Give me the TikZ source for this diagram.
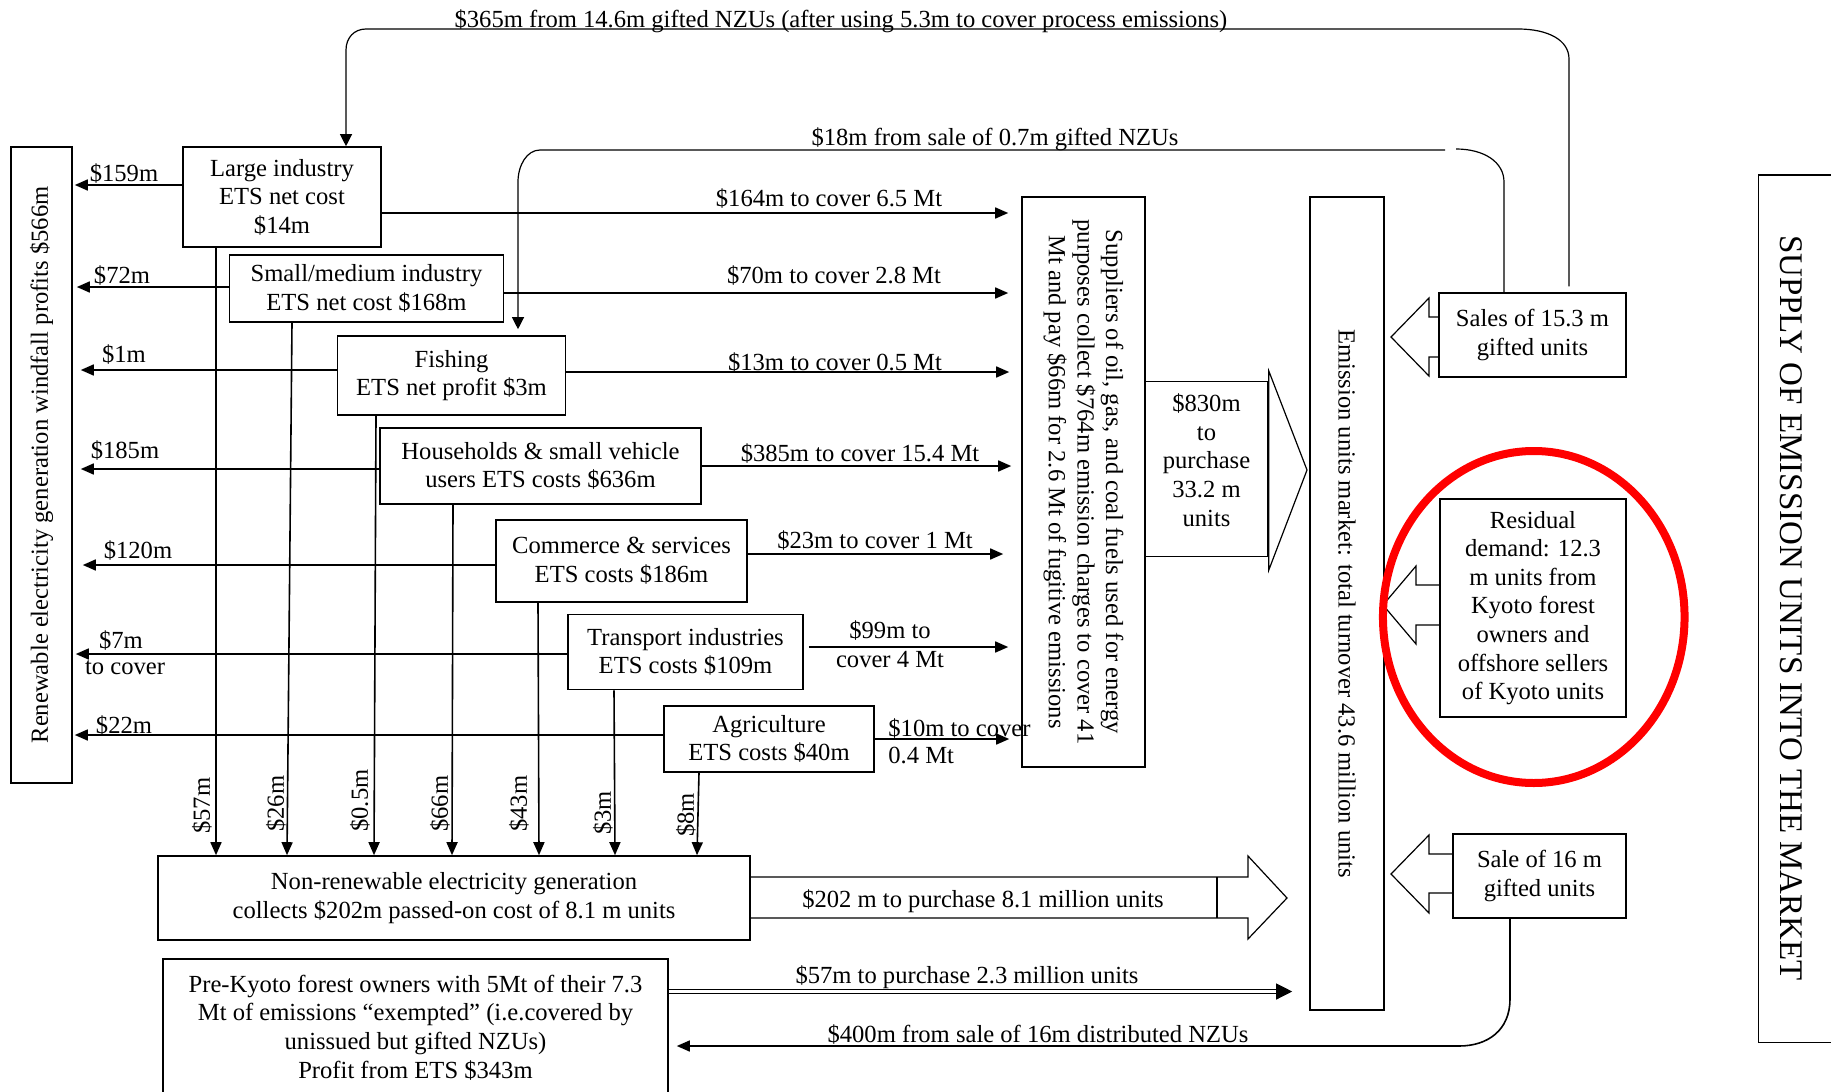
\documentclass[tikz,border=0pt,12pt]{standalone}
\usepackage{fontspec}
\setmainfont{Liberation Serif}
\usetikzlibrary{arrows.meta}

\tikzset{
  box/.style={draw, line width=0.8pt, align=center, inner sep=0pt},
  flow/.style={line width=0.8pt, -{Triangle[length=6.5pt,width=5.5pt]}},
  back/.style={line width=0.6pt, -{Triangle[length=6pt,width=6pt]}},
  lbl/.style={inner sep=0pt, anchor=base},
  vlbl/.style={inner sep=0pt, rotate=90, anchor=west},
  blockarrow/.style={line width=0.6pt, line join=miter},
}

\begin{document}
\begin{tikzpicture}[x=0.5pt, y=-0.5pt, font=\fontsize{12.3}{14.3}\selectfont]
    \useasboundingbox (0,0) rectangle (1831,1092);
    % Boxes on the demand side
    \node[box, rotate=90, minimum width=318pt, minimum height=30.5pt] (renew) at (41.5,465) {Renewable electricity generation windfall profits \$566m};
    \node[box, minimum width=98.75pt, minimum height=50pt] (large) at (282,197) {Large industry\\ETS net cost\\\$14m};
    \node[box, minimum width=137pt, minimum height=33.5pt] (small) at (366.5,288.5) {Small/medium industry\\ETS net cost \$168m};
    \node[box, minimum width=114pt, minimum height=39.5pt] (fish) at (451.5,375.5) {Fishing\\ETS net profit \$3m};
    \node[box, minimum width=160.5pt, minimum height=38pt] (house) at (540.5,466) {Households \& small vehicle\\users ETS costs \$636m};
    \node[box, minimum width=125.5pt, minimum height=41pt] (comm) at (621.5,561) {Commerce \& services\\ETS costs \$186m};
    \node[box, minimum width=117.5pt, minimum height=37.5pt] (trans) at (685.5,652) {Transport industries\\ETS costs \$109m};
    \node[box, minimum width=105pt, minimum height=33pt] (agri) at (769,739) {Agriculture\\ETS costs \$40m};
    \node[box, minimum width=295.75pt, minimum height=42pt] (nonren) at (454,898) {Non-renewable electricity generation\\collects \$202m passed-on cost of 8.1 m units};
    \node[box, minimum width=252.5pt, minimum height=68.5pt] (prek) at (415.5,1027.5) {Pre-Kyoto forest owners with 5Mt of their 7.3\\Mt of emissions “exempted” (i.e.covered by\\unissued but gifted NZUs)\\Profit from ETS \$343m};
    \node[box, rotate=-90, minimum width=285pt, minimum height=61.5pt] (suppl) at (1083.5,482) {Suppliers of oil, gas, and coal fuels used for energy\\purposes collect \$764m emission charges to cover 41\\Mt and pay \$66m for 2.6 Mt of fugitive emissions};
    \node[box, text depth=9pt, minimum width=61.5pt, minimum height=87.5pt] (buy) at (1206.5,469) {\$830m\\to\\purchase\\33.2 m\\units};
    \node[box, rotate=-90, minimum width=406.5pt, minimum height=37pt] (market) at (1347,603.5) {Emission units market: total turnover 43.6 million units};
    % Supply side
    \node[box, minimum width=93.5pt, minimum height=41.75pt] (sales) at (1532.5,335) {Sales of 15.3 m\\gifted units};
    \node[box, minimum width=92.75pt, minimum height=109pt] (resid) at (1533,608) {Residual\\demand: 12.3\\m units from\\Kyoto forest\\owners and\\offshore sellers\\of Kyoto units};
    \node[box, minimum width=86.5pt, minimum height=41.75pt] (sale16) at (1539.5,876) {Sale of 16 m\\gifted units};
    \draw[box] (1758.5,175) rectangle (1850,1042.5);
    \node[inner sep=0pt, rotate=-90, font=\fontsize{16.5}{19}\selectfont] (supply) at (1791,608) {SUPPLY OF EMISSION UNITS INTO THE MARKET};

    % Payments to the fuel suppliers
    \draw[flow, shorten >=6.5pt] (large.east |- 0,213) -- (suppl.south |- 0,213);
    \draw[flow, shorten >=6.5pt] (small.east |- 0,293) -- (suppl.south |- 0,293);
    \draw[flow, shorten >=6pt] (fish.east |- 0,372) -- (suppl.south |- 0,372);
    \draw[flow, shorten >=5pt] (house.east |- 0,466) -- (suppl.south |- 0,466);
    \draw[flow, shorten >=9pt] (comm.east |- 0,554) -- (suppl.south |- 0,554);
    \draw[flow, shorten <=2.5pt, shorten >=6.5pt] (trans.east |- 0,647) -- (suppl.south |- 0,647);
    \draw[flow, shorten >=6pt] (agri.east |- 0,739) -- (suppl.south |- 0,739);
    \node[lbl] (l164) at (829,206) {\$164m to cover 6.5 Mt};
    \node[lbl] (l70) at (834,283) {\$70m to cover 2.8 Mt};
    \node[lbl] (l13) at (835,370) {\$13m to cover 0.5 Mt};
    \node[lbl] (l385) at (860,461) {\$385m to cover 15.4 Mt};
    \node[lbl] (l23) at (875,548) {\$23m to cover 1 Mt};
    \node[lbl] (l99a) at (890,638) {\$99m to};
    \node[lbl] (l99b) at (890,667) {cover 4 Mt};
    \node[lbl, anchor=base west] (l10a) at (888,736) {\$10m to cover};
    \node[lbl, anchor=base west] (l10b) at (888,763) {0.4 Mt};

    % Windfall to renewable generation
    \draw[flow, shorten >=1pt] (large.west |- 0,185) -- (renew.south |- 0,185);
    \draw[flow, shorten >=2pt] (small.west |- 0,287) -- (renew.south |- 0,287);
    \draw[flow, shorten >=4pt] (fish.west |- 0,370) -- (renew.south |- 0,370);
    \draw[flow, shorten >=4pt] (house.west |- 0,469) -- (renew.south |- 0,469);
    \draw[flow, shorten >=5pt] (comm.west |- 0,565) -- (renew.south |- 0,565);
    \draw[flow, shorten >=1.5pt] (trans.west |- 0,654) -- (renew.south |- 0,654);
    \draw[flow, shorten >=1pt] (agri.west |- 0,735) -- (renew.south |- 0,735);
    \node[lbl] (l159) at (124,181) {\$159m};
    \node[lbl] (l72) at (122,283) {\$72m};
    \node[lbl] (l1) at (124,362) {\$1m};
    \node[lbl] (l185) at (125,458) {\$185m};
    \node[lbl] (l120) at (138,558) {\$120m};
    \node[lbl] (l7) at (121,648) {\$7m};
    \node[lbl] (l7b) at (125,674) {to cover};
    \node[lbl] (l22) at (124,733) {\$22m};

    % Passed-on cost to non-renewable generation
    \draw[flow] (large.south -| 216,0) -- (nonren.north -| 216,0);
    \draw[flow] (small.south -| 292,0) -- (nonren.north -| 287,0);
    \draw[flow] (fish.south -| 376,0) -- (nonren.north -| 374,0);
    \draw[flow] (house.south -| 453,0) -- (nonren.north -| 452,0);
    \draw[flow] (comm.south -| 538,0) -- (nonren.north -| 539,0);
    \draw[flow] (trans.south -| 614,0) -- (nonren.north -| 615,0);
    \draw[flow] (agri.south -| 699,0) -- (nonren.north -| 697,0);
    \node[vlbl] (v57) at (202,834) {\$57m};
    \node[vlbl] (v26) at (276,832) {\$26m};
    \node[vlbl] (v05) at (360,832) {\$0.5m};
    \node[vlbl] (v66) at (440,832) {\$66m};
    \node[vlbl] (v43) at (519,832) {\$43m};
    \node[vlbl] (v3) at (603,835) {\$3m};
    \node[vlbl] (v8) at (686,837) {\$8m};

    % Money back for gifted units
    \draw[back, shorten <=3pt] (sales.north -| 1569,0) -- (1569,59) .. controls (1569,40) and (1548,29) .. (1518,29) -- (366,29) .. controls (354,29) and (346,38) .. (346,50) -- (large.north -| 346,0);
    \node[lbl] (l365) at (841,27) {\$365m from 14.6m gifted NZUs (after using 5.3m to cover process emissions)};
    \draw[back, shorten <=1pt, shorten >=3pt] (sales.north -| 1504,0) -- (1504,182) .. controls (1504,162) and (1484,149) .. (1456,149) (1447,150) -- (540,150) .. controls (527,150) and (518,165) .. (518,182) -- (fish.north -| 518,0);
    \node[lbl] (l18) at (995,145) {\$18m from sale of 0.7m gifted NZUs};
    \draw[flow, shorten >=4pt] (sale16.south -| 1510,0) -- (1510,999) .. controls (1510,1030) and (1488,1046) .. (1459,1046) -- (prek.east |- 0,1046);
    \node[lbl] (l400) at (1038,1042) {\$400m from sale of 16m distributed NZUs};

    % Purchases on the market
    \draw[double, double distance=1.6pt, line width=0.6pt, -{Triangle[length=8pt,width=8pt]}, shorten >=8.5pt] (prek.east |- 0,991.5) -- (market.south |- 0,991.5);
    \node[lbl] (l57) at (967,983) {\$57m to purchase 2.3 million units};
    \draw[blockarrow] (nonren.east |- 0,877) -- (1248,877) -- (1248,856) -- (1287,898) -- (1248,939) -- (1248,918) -- (nonren.east |- 0,918);
    \draw[blockarrow] (1217,877) -- (1217,918);
    \node[lbl] (l202) at (983,907) {\$202 m to purchase 8.1 million units};
    \draw[blockarrow] (buy.east |- 0,371) -- (1307,470) -- (buy.east |- 0,570) -- cycle;

    % Supply into the market
    \draw[blockarrow] (sales.west |- 0,317) -- (1429,317) -- (1429,298) -- (1391,337) -- (1429,376) -- (1429,357) -- (sales.west |- 0,357);
    \draw[blockarrow] (resid.west |- 0,585) -- (1416,585) -- (1416,566) -- (1383,605) -- (1416,644) -- (1416,625) -- (resid.west |- 0,625);
    \draw[blockarrow] (sale16.west |- 0,854) -- (1429,854) -- (1429,835) -- (1391,874) -- (1429,913) -- (1429,893) -- (sale16.west |- 0,893);
    \draw[red, line width=4pt] (1533.75,617) ellipse [x radius=75.4pt, y radius=83pt];
\end{tikzpicture}
\end{document}
